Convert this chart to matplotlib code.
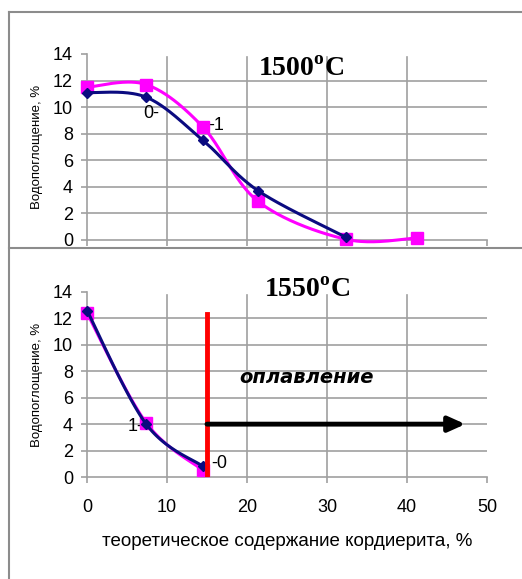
import matplotlib

matplotlib.use("Agg")

import matplotlib.pyplot as plt
import numpy as np
from matplotlib.lines import Line2D

# 1500 C panel
x_top_0 = [0, 7.4, 14.5, 21.4, 32.4]
y_top_0 = [11.1, 10.75, 7.5, 3.7, 0.2]
x_top_1 = [0, 7.4, 14.5, 21.4, 32.4, 41.2]
y_top_1 = [11.5, 11.7, 8.5, 2.9, 0.05, 0.15]

# 1550 C panel
x_bot_0 = [0, 7.4, 14.5]
y_bot_0 = [12.6, 4.0, 0.8]
x_bot_1 = [0, 7.4, 14.5]
y_bot_1 = [12.4, 4.1, 0.5]

melt_x = 15.0
melt_top = 12.3
arrow_y = 4.0
arrow_end = 47.3

x_ticks = [0, 10, 20, 30, 40, 50]
y_ticks = [0, 2, 4, 6, 8, 10, 12, 14]

NAVY = "#0b0b80"
MAGENTA = "#ff00ff"
GRID = "#a0a0a0"
SANS = "Liberation Sans"
SERIF = "Liberation Serif"

plt.rcParams["mathtext.fontset"] = "custom"
plt.rcParams["mathtext.rm"] = SERIF
plt.rcParams["mathtext.bf"] = SERIF + ":bold"


def smooth(xs, ys, n=40):
    # excel-style smoothed line (catmull-rom through the points)
    p = np.column_stack([xs, ys]).astype(float)
    p = np.vstack([p[0], p, p[-1]])
    out = []
    t = np.linspace(0, 1, n)[:, None]
    for i in range(1, len(p) - 2):
        p0, p1, p2, p3 = p[i - 1], p[i], p[i + 1], p[i + 2]
        c1 = p1 + (p2 - p0) / 6
        c2 = p2 - (p3 - p1) / 6
        seg = ((1 - t) ** 3) * p1 + 3 * ((1 - t) ** 2) * t * c1 \
            + 3 * (1 - t) * t ** 2 * c2 + t ** 3 * p2
        out.append(seg)
    seg = np.vstack(out)
    return seg[:, 0], seg[:, 1]


def style_axes(ax, show_xlabels):
    ax.set_xlim(0, 50)
    ax.set_ylim(0, 14)
    ax.set_xticks(x_ticks)
    ax.set_yticks(y_ticks)
    for v in y_ticks[1:-1]:
        ax.axhline(v, color=GRID, lw=1.2, zorder=0)
    for v in x_ticks[1:-1]:
        ax.plot([v, v], [0, 13.8], color=GRID, lw=1.2, zorder=0)
    for s in ("top", "right"):
        ax.spines[s].set_visible(False)
    for s in ("left", "bottom"):
        ax.spines[s].set_color(GRID)
        ax.spines[s].set_linewidth(1.2)
    ax.tick_params(axis="y", length=4, width=1.2, color=GRID, pad=6,
                   labelsize=13)
    ax.tick_params(axis="x", length=4, width=1.2, color=GRID, pad=12,
                   labelsize=13, labelbottom=show_xlabels)
    for lab in ax.get_xticklabels() + ax.get_yticklabels():
        lab.set_fontfamily(SANS)
    ax.set_ylabel("Водопоглощение, %", fontsize=9.5, family=SANS, labelpad=7)


fig = plt.figure(figsize=(5.22, 5.79), dpi=100)

ax1 = fig.add_axes([87 / 522, 1 - 240 / 579, 400 / 522, 186 / 579])
ax2 = fig.add_axes([87 / 522, 1 - 477 / 579, 400 / 522, 185 / 579])

style_axes(ax1, False)
style_axes(ax2, True)

for ax, (xa, ya), (xb, yb) in [
    (ax1, (x_top_0, y_top_0), (x_top_1, y_top_1)),
    (ax2, (x_bot_0, y_bot_0), (x_bot_1, y_bot_1)),
]:
    sx, sy = smooth(xb, yb)
    ax.plot(sx, sy, color=MAGENTA, lw=2.2, zorder=3, clip_on=False)
    ax.plot(xb, yb, ls="none", marker="s", ms=9, color=MAGENTA, zorder=4,
            clip_on=False)
    sx, sy = smooth(xa, ya)
    ax.plot(sx, sy, color=NAVY, lw=2.2, zorder=5, clip_on=False)
    ax.plot(xa, ya, ls="none", marker="D", ms=5, color=NAVY, zorder=6,
            clip_on=False)

ax1.text(8.0, 9.55, "0-", fontsize=13, family=SANS, ha="center", va="center")
ax1.text(16.2, 8.65, "-1", fontsize=13, family=SANS, ha="center", va="center")
ax2.text(6.1, 3.8, "1-", fontsize=13, family=SANS, ha="center", va="center")
ax2.text(16.5, 1.05, "-0", fontsize=13, family=SANS, ha="center", va="center")

ax1.text(26.8, 12.8, r"1500$^{\mathbf{o}}$C", fontsize=20, family=SERIF,
         weight="bold", ha="center", va="center")
ax2.text(27.5, 14.1, r"1550$^{\mathbf{o}}$C", fontsize=20, family=SERIF,
         weight="bold", ha="center", va="center")

ax2.plot([melt_x, melt_x], [0, melt_top], color="red", lw=3.5, zorder=7)
ax2.annotate("", xy=(arrow_end, arrow_y), xytext=(melt_x, arrow_y),
             arrowprops=dict(arrowstyle="-|>,head_length=1.0,head_width=0.45",
                             color="black", lw=3.5, shrinkA=0, shrinkB=0),
             zorder=7)
ax2.text(27.5, 7.5, "оплавление", fontsize=14, family="DejaVu Sans",
         style="italic", weight="bold", ha="center", va="center")

ax2.set_xlabel("теоретическое содержание кордиерита, %", fontsize=13.5,
               family=SANS, labelpad=12)

# outer frame of the original figure
frame = dict(color="#8c8c8c", lw=1.5, transform=fig.transFigure)
fig.add_artist(Line2D([9 / 522, 9 / 522], [0, 1 - 12 / 579], **frame))
fig.add_artist(Line2D([9 / 522, 1], [1 - 12 / 579, 1 - 12 / 579], **frame))
fig.add_artist(Line2D([9 / 522, 1], [1 - 248 / 579, 1 - 248 / 579], **frame))

fig.savefig("out.png", dpi=100)
